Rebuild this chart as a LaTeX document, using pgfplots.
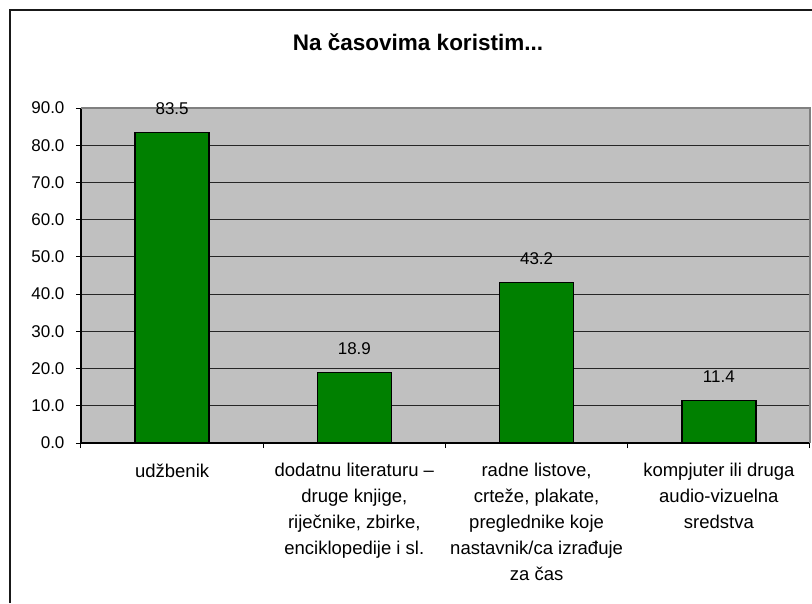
\documentclass[border=0pt]{standalone}
\usepackage{pgfplots}
\pgfplotsset{compat=1.18}
\usepackage{fontspec}
\setmainfont{Liberation Sans}
\definecolor{plotgray}{HTML}{C0C0C0}
\definecolor{bargreen}{HTML}{008000}
\definecolor{bordergray}{HTML}{808080}
\begin{document}
\begin{tikzpicture}[x=1pt,y=1pt]
\useasboundingbox (0,0) rectangle (812,603);
\draw[line width=1.3pt, black!90] (10,0) -- (10,593) -- (812,593);
\node[font=\bfseries\fontsize{22.5}{27}\selectfont] at (418,561) {Na časovima koristim...};
\begin{axis}[
  at={(172.1pt,160pt)}, anchor=origin,
  scale only axis, width=729pt, height=335pt,
  xmin=-0.5, xmax=3.5, ymin=0, ymax=90,
  clip=false,
  axis background/.style={fill=plotgray},
  axis x line*=bottom, axis y line*=left,
  axis line style={black, line width=1.2pt},
  ytick={0,10,...,90},
  ymajorgrids, grid style={black!85, line width=0.9pt},
  tick align=outside, major tick length=5pt,
  tick style={black, line width=1pt},
  yticklabel style={font=\fontsize{17}{20}\selectfont, xshift=-8pt,
    /pgf/number format/.cd, fixed, fixed zerofill, precision=1, assume math mode=true},
  xtick={-0.5,0.5,1.5,2.5,3.5}, xticklabels={},
  extra x ticks={0,1,2,3},
  extra x tick labels={udžbenik,
    {dodatnu literaturu –\\druge knjige,\\riječnike, zbirke,\\enciklopedije i sl.},
    {radne listove,\\crteže, plakate,\\preglednike koje\\nastavnik/ca izrađuje\\za čas},
    {kompjuter ili druga\\audio-vizuelna\\sredstva}},
  extra x tick style={major tick length=0pt},
  xticklabel style={align=center, font=\fontsize{18.5}{26}\selectfont, anchor=north, yshift=-17pt},
  nodes near coords,
  every node near coord/.append style={font=\fontsize{17}{20}\selectfont, anchor=center, yshift=24pt,
    /pgf/number format/.cd, fixed, fixed zerofill, precision=1, assume math mode=true},
]
\addplot[ybar, bar width=74pt, fill=bargreen, draw=black, line width=1.3pt]
  coordinates {(0,83.5) (1,18.9) (2,43.2) (3,11.4)};
\draw[bordergray, line width=1.6pt] (rel axis cs:0,1) -- (rel axis cs:1,1) -- (rel axis cs:1,0);
\end{axis}
\end{tikzpicture}
\end{document}
